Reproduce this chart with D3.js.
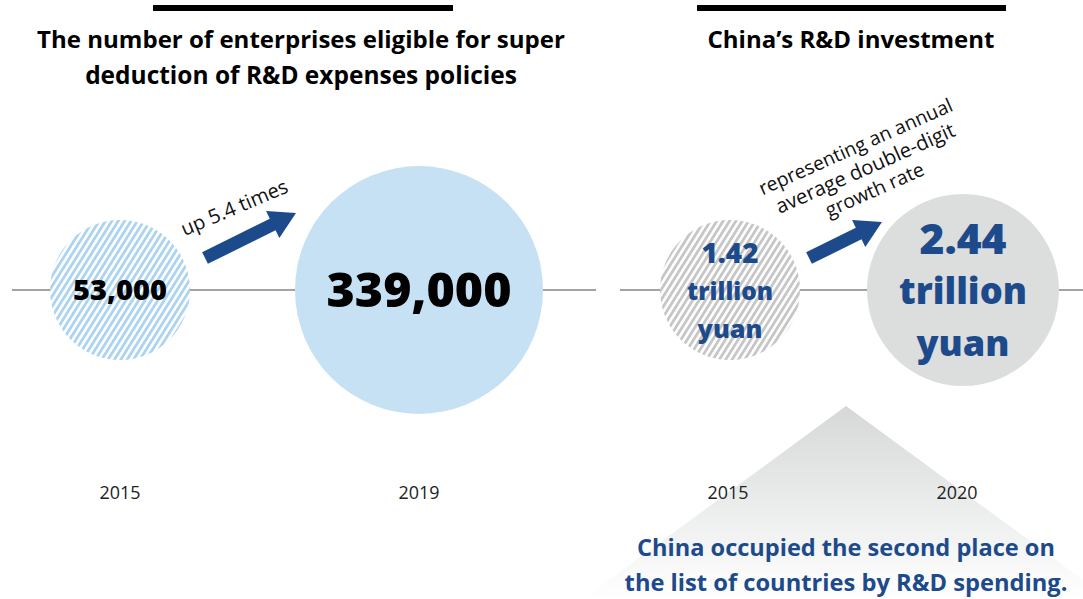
<!DOCTYPE html>
<html><head><meta charset="utf-8">
<script src="https://cdn.jsdelivr.net/npm/d3@7"></script>
<style>
html,body{margin:0;padding:0;background:#fff;}
svg{display:block;font-family:"Open Sans","Noto Sans",sans-serif;}
</style></head>
<body><svg id="chart" width="1083" height="599"></svg>
<script>
// ---- data ----
const leftTitle = ["The number of enterprises eligible for super", "deduction of R&D expenses policies"];
const leftYears = ["2015", "2019"];
const leftValues = [53000, 339000];
const leftLabels = ["53,000", "339,000"];
const leftNote = ["up 5.4 times"];

const rightTitle = ["China\u2019s R&D investment"];
const rightYears = ["2015", "2020"];
const rightValues = [1.42, 2.44];
const rightLabels = [["1.42", "trillion", "yuan"], ["2.44", "trillion", "yuan"]];
const rightNote = ["representing an annual", "average double-digit", "growth rate"];
const footnote = ["China occupied the second place on", "the list of countries by R&D spending."];

const svg = d3.select("#chart");
const defs = svg.append("defs");
const navy = "#1d4a8b";

// scale a text's font-size so its rendered width matches a target width
function fit(sel, w) {
  sel.each(function () {
    const t = d3.select(this);
    const fs = parseFloat(t.attr("font-size"));
    const cur = this.getComputedTextLength();
    if (cur > 0) t.attr("font-size", (fs * w / cur).toFixed(2));
  });
}

function hatch(id, color) {
  const p = defs.append("pattern").attr("id", id).attr("patternUnits", "userSpaceOnUse")
    .attr("width", 5.4).attr("height", 10).attr("patternTransform", "rotate(32)");
  p.append("rect").attr("width", 5.4).attr("height", 10).attr("fill", "#fff");
  p.append("rect").attr("width", 2.8).attr("height", 10).attr("fill", color);
}
hatch("hatchBlue", "#acd3ef");
hatch("hatchGray", "#c6c6c6");

const grad = defs.append("linearGradient").attr("id", "triGrad").attr("x1", 0).attr("y1", 0).attr("x2", 0).attr("y2", 1);
grad.append("stop").attr("offset", "0%").attr("stop-color", "#d6d8d8");
grad.append("stop").attr("offset", "100%").attr("stop-color", "#ffffff");

const baseY = 290;

// triangle backdrop (right panel)
svg.append("path")
  .attr("d", "M846,406 L583,599 L1109,599 Z")
  .attr("fill", "url(#triGrad)");

// baselines
svg.append("line").attr("x1", 12).attr("x2", 596).attr("y1", baseY).attr("y2", baseY)
  .attr("stroke", "#a3a3a3").attr("stroke-width", 2);
svg.append("line").attr("x1", 620).attr("x2", 1083).attr("y1", baseY).attr("y2", baseY)
  .attr("stroke", "#a3a3a3").attr("stroke-width", 2);

// title bars
svg.append("rect").attr("x", 153).attr("y", 5).attr("width", 300).attr("height", 6).attr("fill", "#000");
svg.append("rect").attr("x", 697).attr("y", 5).attr("width", 309).attr("height", 6).attr("fill", "#000");

function title(lines, cx, widths) {
  svg.append("g").selectAll("text").data(lines).join("text")
    .attr("x", cx).attr("y", (d, i) => 48 + i * 36)
    .attr("text-anchor", "middle").attr("font-size", 22).attr("font-weight", 700)
    .attr("fill", "#000").text(d => d)
    .each(function (d, i) { fit(d3.select(this), widths[i]); });
}
title(leftTitle, 301, [528, 432]);
title(rightTitle, 851, [287]);

// ---- left panel ----
const xL = d3.scalePoint().domain(leftYears).range([120, 419]);
const rL = d3.scaleLinear().domain([53000, 339000]).range([70, 124]);
const fills = ["url(#hatchBlue)", "#c7e1f4"];
svg.append("g").selectAll("circle").data(leftValues).join("circle")
  .attr("cx", (d, i) => xL(leftYears[i])).attr("cy", baseY).attr("r", d => rL(d))
  .attr("fill", (d, i) => fills[i]);
const lw = [94, 185];
svg.append("g").selectAll("text").data(leftLabels).join("text")
  .attr("x", (d, i) => xL(leftYears[i])).attr("y", baseY)
  .attr("dy", "0.36em").attr("text-anchor", "middle")
  .attr("font-weight", 800).attr("font-size", (d, i) => i ? 46 : 26)
  .attr("fill", "#000").text(d => d)
  .each(function (d, i) { fit(d3.select(this), lw[i]); });
svg.append("g").selectAll("text").data(leftYears).join("text")
  .attr("x", d => xL(d)).attr("y", 499).attr("text-anchor", "middle")
  .attr("font-size", 18).attr("fill", "#222").text(d => d)
  .each(function () { fit(d3.select(this), 41); });

function arrow(x0, y0, x1, y1) {
  const ang = Math.atan2(y1 - y0, x1 - x0);
  const len = Math.hypot(x1 - x0, y1 - y0);
  const hw = 6.5, hl = 26, hh = 15;
  const pts = [[0, -hw], [len - hl, -hw], [len - hl, -hh], [len, 0], [len - hl, hh], [len - hl, hw], [0, hw]];
  svg.append("path")
    .attr("d", d3.line()(pts) + "Z")
    .attr("transform", `translate(${x0},${y0}) rotate(${ang * 180 / Math.PI})`)
    .attr("fill", navy);
}
arrow(205, 258, 296, 213);
arrow(809, 258, 882, 222);

svg.append("text").attr("transform", "translate(237,214) rotate(-23)")
  .attr("text-anchor", "middle").attr("font-size", 18).attr("font-weight", 400).attr("fill", "#111")
  .text(leftNote[0])
  .each(function () { fit(d3.select(this), 114); });

// ---- right panel ----
const xR = d3.scalePoint().domain(rightYears).range([730, 963]);
const rR = d3.scaleLinear().domain([1.42, 2.44]).range([70, 96]);
const fillsR = ["url(#hatchGray)", "#dcdddd"];
svg.append("g").selectAll("circle").data(rightValues).join("circle")
  .attr("cx", (d, i) => xR(rightYears[i])).attr("cy", baseY).attr("r", d => rR(d))
  .attr("fill", (d, i) => fillsR[i]);

const lineGap = [38, 52];
const centerOff = [1, 1];
const rw = [[57, 86, 65], [87, 128, 93]];
rightLabels.forEach((lines, i) => {
  svg.append("g").selectAll("text").data(lines).join("text")
    .attr("x", xR(rightYears[i])).attr("y", (d, j) => baseY + centerOff[i] + (j - 1) * lineGap[i])
    .attr("dy", "0.36em").attr("text-anchor", "middle")
    .attr("font-weight", 800).attr("font-size", 26)
    .attr("fill", navy).text(d => d)
    .each(function (d, j) { fit(d3.select(this), rw[i][j]); });
});
svg.append("g").selectAll("text").data(rightYears).join("text")
  .attr("x", (d, i) => xR(d) - (i ? 6 : 2)).attr("y", 499).attr("text-anchor", "middle")
  .attr("font-size", 18).attr("fill", "#222").text(d => d)
  .each(function () { fit(d3.select(this), 41); });

const nw = [210, 194, 106];
svg.append("g").attr("transform", "translate(865,168) rotate(-24)")
  .selectAll("text").data(rightNote).join("text")
  .attr("x", 0).attr("y", (d, i) => (i - 1) * 23.5).attr("dy", "0.36em")
  .attr("text-anchor", "middle").attr("font-size", 18).attr("font-weight", 400).attr("fill", "#111")
  .text(d => d)
  .each(function (d, i) { fit(d3.select(this), nw[i]); });

const fw = [418, 443];
svg.append("g").selectAll("text").data(footnote).join("text")
  .attr("x", 846).attr("y", (d, i) => 556 + i * 35).attr("text-anchor", "middle")
  .attr("font-size", 22).attr("font-weight", 700).attr("fill", navy).text(d => d)
  .each(function (d, i) { fit(d3.select(this), fw[i]); });
</script></body></html>
